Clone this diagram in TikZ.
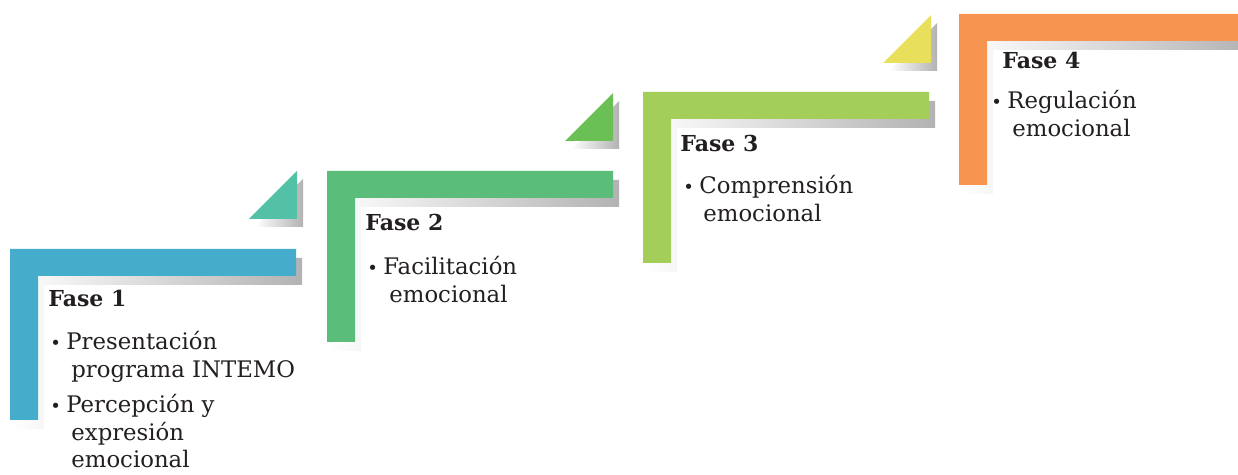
\documentclass[tikz,border=0pt]{standalone}
\usepackage{fontspec}
\setmainfont{DejaVu Serif}
\usetikzlibrary{positioning}

\definecolor{faseA}{HTML}{45ADCB}
\definecolor{faseB}{HTML}{5ABD7A}
\definecolor{faseC}{HTML}{A3CE5A}
\definecolor{faseD}{HTML}{F79450}
\definecolor{triA}{HTML}{52C1A6}
\definecolor{triB}{HTML}{6ABF55}
\definecolor{triC}{HTML}{E8E05A}
\definecolor{ink}{HTML}{231F20}

\tikzset{
  lstep/.style={insert path={-- ++(286,0) -- ++(0,27) -- ++(-258,0) -- ++(0,144) -- ++(-28,0) -- cycle}},
  ltri/.style={insert path={-- ++(-48,0) -- ++(48,-48) -- cycle}},
  shadow/.style={left color=white, right color=black!30, draw=none},
  heading/.style={anchor=base west, inner sep=0pt, text=ink, font=\fontsize{11}{13}\selectfont\bfseries},
  itemtext/.style={anchor=base west, inner sep=0pt, text=ink, font=\fontsize{11.4}{13}\selectfont}
}

\newcommand{\bul}{\makebox[8pt][l]{\small\textbullet}}

\begin{document}
\begin{tikzpicture}[x=0.5pt,y=-0.5pt]

        \useasboundingbox (0,0) rectangle (1238,475);

        \coordinate (s1) at (10,249);
        \coordinate (s2) at (327,171);
        \coordinate (s3) at (643,92);
        \coordinate (s4) at (959,14);

        \coordinate (t1) at (297,219);
        \coordinate (t2) at (613,141);
        \coordinate (t3) at (931,63);

        % shadows first
        \path[shadow] (s1) ++(6,9) [lstep];
        \path[shadow] (s2) ++(6,9) [lstep];
        \path[shadow] (s3) ++(6,9) [lstep];
        \path[shadow] (s4) ++(6,9) [lstep];
        \path[shadow] (t1) ++(6,8) [ltri];
        \path[shadow] (t2) ++(6,8) [ltri];
        \path[shadow] (t3) ++(6,8) [ltri];

        % steps and triangles
        \path[fill=faseA] (s1) [lstep];
        \path[fill=faseB] (s2) [lstep];
        \path[fill=faseC] (s3) [lstep];
        \path[fill=faseD] (s4) [lstep];
        \path[fill=triA] (t1) [ltri];
        \path[fill=triB] (t2) [ltri];
        \path[fill=triC] (t3) [ltri];

        % Fase 1
        \node[heading] (h1) at (48,307) {Fase 1};
        \node[itemtext] (a1) at (50,350) {\bul Presentación};
        \node[itemtext] (a2) at (71,378) {programa INTEMO};
        \node[itemtext] (a3) at (50,413) {\bul Percepción y};
        \node[itemtext] (a4) at (71,441) {expresión};
        \node[itemtext] (a5) at (71,468) {emocional};

        % Fase 2
        \node[heading] (h2) at (365,231) {Fase 2};
        \node[itemtext] (b1) at (367,275) {\bul Facilitación};
        \node[itemtext] (b2) at (389,303) {emocional};

        % Fase 3
        \node[heading] (h3) at (680,152) {Fase 3};
        \node[itemtext] (c1) at (683,194) {\bul Comprensión};
        \node[itemtext] (c2) at (703,222) {emocional};

        % Fase 4
        \node[heading] (h4) at (1002,69) {Fase 4};
        \node[itemtext] (d1) at (991,109) {\bul Regulación};
        \node[itemtext] (d2) at (1012,137) {emocional};

    \end{tikzpicture}
\end{document}
